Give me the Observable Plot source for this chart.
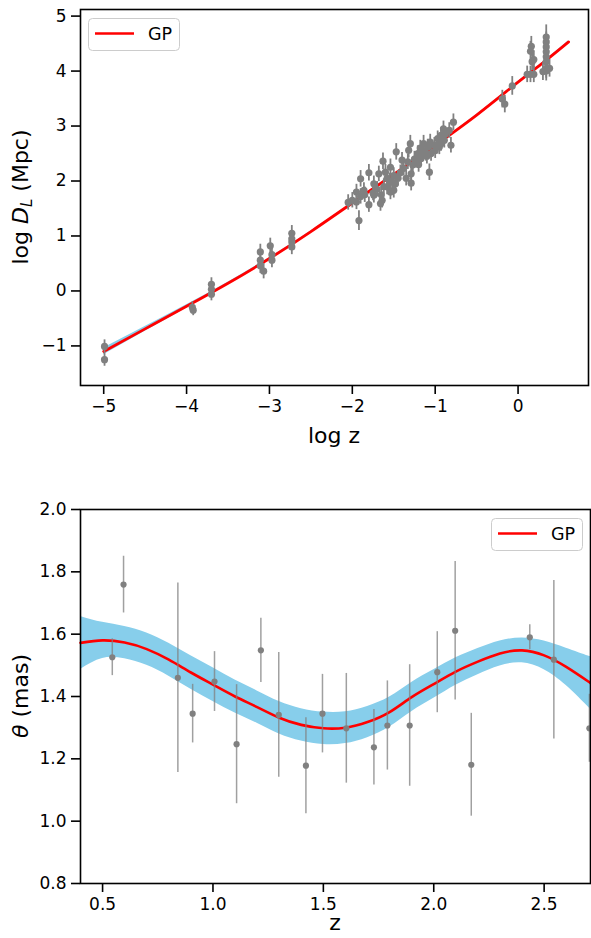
<!DOCTYPE html>
<html><head><meta charset="utf-8">
<script src="https://cdn.jsdelivr.net/npm/d3@7"></script>
<script src="https://cdn.jsdelivr.net/npm/@observablehq/plot@0.6"></script>
<style>
body{margin:0;background:#fff;}
#wrap{position:relative;width:591px;height:938px;overflow:hidden;}
#wrap svg{display:block;}
</style></head><body><div id="wrap"></div><script>
// ---------- Top panel data: log z vs log D_L ----------
const logZ = [-4.99,-4.99,-3.93,-3.92,-3.70,-3.70,-3.70,
  -3.11,-3.11,-3.11,-3.07,-2.99,-2.97,-2.97,-2.73,-2.73,-2.73,-2.73,
  -2.05,-1.95,-1.92,-1.90,-1.95,-1.86,-1.80,-1.80,-1.74,-1.74,-1.66,-1.64,-1.63,-1.68,-1.60,-1.58,
  -1.54,-1.52,-1.50,-1.54,-1.50,-1.47,-1.40,-1.38,-1.30,-1.32,-1.29,-1.29,-1.27,-1.23,-1.21,-1.14,
  -1.15,-1.17,-1.11,-1.07,-1.06,-1.01,-0.97,-0.93,-0.95,-0.89,-0.90,-0.83,-0.81,-0.78,-0.93,-1.09,
  -1.85,-1.70,-1.62,-1.45,-1.42,-1.35,-1.25,-1.20,-1.10,-1.00,-0.95,-1.55,-1.75,-1.90,-2.00,-1.65,
  -1.58,-1.48,-1.33,-1.18,-1.05,-0.88,
  -0.19,-0.16,-0.07,0.11,0.15,0.19,0.15,0.17,0.19,0.16,
  0.34,0.34,0.34,0.34,0.34,0.34,0.34,0.34,0.30,0.38];
const logDL = [-1.01,-1.25,-0.30,-0.35,0.12,0.03,-0.06,
  0.71,0.56,0.46,0.36,0.82,0.66,0.56,1.05,0.95,0.89,0.80,
  1.61,1.62,1.28,2.04,1.80,1.83,1.57,2.15,1.95,1.74,1.59,1.65,2.36,2.13,2.16,1.89,
  2.25,1.98,2.10,1.80,1.83,2.53,2.38,2.23,2.68,2.56,2.13,1.96,2.29,2.38,2.50,2.68,
  2.56,2.41,2.50,2.16,2.71,2.65,2.77,2.83,2.62,2.74,2.95,2.92,2.65,3.07,2.68,2.62,
  1.75,1.85,1.90,2.05,2.15,2.05,2.40,2.30,2.45,2.55,2.70,2.00,1.78,1.72,1.65,1.75,
  2.05,1.95,2.35,2.60,2.50,2.85,
  3.49,3.40,3.73,3.94,3.94,3.94,4.36,4.17,4.21,4.45,
  4.62,4.53,4.44,4.35,4.26,4.17,4.05,4.00,3.99,4.05];
const logDLerr = [0.12,0.12,0.10,0.10,0.12,0.12,0.12,
  0.14,0.14,0.14,0.14,0.14,0.14,0.14,0.14,0.14,0.14,0.14,
  0.14,0.14,0.18,0.15,0.14,0.14,0.14,0.15,0.14,0.14,0.14,0.14,0.15,0.14,0.14,0.14,
  0.15,0.14,0.14,0.14,0.14,0.15,0.14,0.14,0.15,0.14,0.14,0.14,0.14,0.14,0.14,0.15,
  0.14,0.14,0.14,0.15,0.14,0.14,0.14,0.14,0.14,0.14,0.14,0.14,0.14,0.15,0.14,0.14,
  0.14,0.14,0.14,0.14,0.14,0.14,0.14,0.14,0.14,0.14,0.14,0.14,0.14,0.14,0.14,0.14,
  0.14,0.14,0.14,0.14,0.14,0.14,
  0.16,0.16,0.17,0.15,0.15,0.15,0.18,0.16,0.16,0.18,
  0.22,0.18,0.18,0.18,0.18,0.18,0.18,0.18,0.16,0.16];
// GP reconstruction (top)
const gpTopZ    = [-5,-4.5,-4,-3.5,-3,-2.5,-2,-1.5,-1,-0.5,0,0.3,0.61];
const gpTopMean = [-1.10,-0.69,-0.28,0.14,0.59,1.08,1.60,2.12,2.65,3.20,3.80,4.15,4.53];
const gpTopSig  = [0.06,0.045,0.03,0.02,0.015,0.01,0.01,0.01,0.01,0.01,0.012,0.015,0.02];

// ---------- Bottom panel data: z vs theta ----------
const zObs     = [0.544,0.595,0.841,0.908,1.007,1.107,1.217,1.298,1.421,1.496,1.604,1.729,1.790,1.891,2.016,2.097,2.170,2.435,2.544,2.705];
const thetaObs = [1.526,1.759,1.460,1.345,1.448,1.247,1.548,1.341,1.178,1.345,1.298,1.237,1.307,1.307,1.478,1.611,1.181,1.590,1.518,1.298];
const thetaErr = [0.059,0.091,0.304,0.094,0.096,0.191,0.103,0.200,0.154,0.126,0.176,0.121,0.143,0.195,0.130,0.222,0.165,0.040,0.254,0.109];
const gpZ     = [0.4,0.5,0.6,0.7,0.8,0.9,1.0,1.1,1.2,1.3,1.4,1.5,1.6,1.7,1.8,1.9,2.0,2.1,2.2,2.3,2.4,2.5,2.6,2.7,2.71];
const gpMean  = [1.572,1.580,1.573,1.552,1.518,1.477,1.438,1.400,1.366,1.332,1.309,1.298,1.300,1.318,1.350,1.398,1.440,1.480,1.512,1.538,1.548,1.532,1.495,1.448,1.443];
const gpSig   = [0.085,0.058,0.052,0.052,0.053,0.054,0.054,0.053,0.052,0.052,0.052,0.052,0.051,0.050,0.048,0.047,0.046,0.044,0.042,0.040,0.040,0.046,0.060,0.082,0.085];

const FONT = "DejaVu Sans";
const topPts = logZ.map((x,i)=>({x, y: logDL[i], e: logDLerr[i]}));
const topGP = gpTopZ.map((x,i)=>({x, y: gpTopMean[i], lo: gpTopMean[i]-gpTopSig[i], hi: gpTopMean[i]+gpTopSig[i]}));
const botPts = zObs.map((x,i)=>({x, y: thetaObs[i], e: thetaErr[i]}));
const botGP = gpZ.map((x,i)=>({x, y: gpMean[i], lo: gpMean[i]-gpSig[i], hi: gpMean[i]+gpSig[i]}));

const axisOpts = {tickSize: 9, tickPadding: 5, fontSize: 17, strokeWidth: 1.6, label: null};

const topPlot = Plot.plot({
  width: 591, height: 460,
  marginLeft: 80, marginRight: 3, marginTop: 9, marginBottom: 75,
  style: {fontFamily: FONT, background: "white", color: "black", overflow: "visible"},
  x: {domain: [-5.28, 0.85]},
  y: {domain: [-1.72, 5.12]},
  marks: [
    Plot.areaY(topGP, {x: "x", y1: "lo", y2: "hi", fill: "skyblue", curve: "natural"}),
    Plot.line(topGP, {x: "x", y: "y", stroke: "red", strokeWidth: 2.8, curve: "natural"}),
    Plot.ruleX(topPts, {x: "x", y1: d=>d.y-d.e, y2: d=>d.y+d.e, stroke: "gray", strokeWidth: 1.8}),
    Plot.dot(topPts, {x: "x", y: "y", r: 3.6, fill: "gray"}),
    Plot.frame({stroke: "black", strokeWidth: 1.6}),
    Plot.axisX({...axisOpts, ticks: [-5,-4,-3,-2,-1,0], tickFormat: d3.format("d")}),
    Plot.axisY({...axisOpts, ticks: [-1,0,1,2,3,4,5], tickFormat: d3.format("d")})
  ]
});

const botPlot = Plot.plot({
  width: 591, height: 478,
  marginLeft: 80, marginRight: 1, marginTop: 49, marginBottom: 55,
  style: {fontFamily: FONT, background: "white", color: "black", overflow: "visible"},
  x: {domain: [0.4, 2.71]},
  y: {domain: [0.8, 2.0]},
  marks: [
    Plot.areaY(botGP, {x: "x", y1: "lo", y2: "hi", fill: "skyblue", curve: "natural"}),
    Plot.line(botGP, {x: "x", y: "y", stroke: "red", strokeWidth: 2.6, curve: "natural"}),
    Plot.ruleX(botPts, {x: "x", y1: d=>d.y-d.e, y2: d=>d.y+d.e, stroke: "gray", strokeOpacity: 0.75, strokeWidth: 1.5}),
    Plot.dot(botPts, {x: "x", y: "y", r: 3.1, fill: "gray"}),
    Plot.frame({stroke: "black", strokeWidth: 1.6}),
    Plot.axisX({...axisOpts, ticks: [0.5,1.0,1.5,2.0,2.5], tickFormat: d3.format(".1f")}),
    Plot.axisY({...axisOpts, ticks: [0.8,1.0,1.2,1.4,1.6,1.8,2.0], tickFormat: d3.format(".1f")})
  ]
});

const wrap = document.getElementById("wrap");
wrap.appendChild(topPlot);
wrap.appendChild(botPlot);

function addXLabel(svg, x, y, text){
  d3.select(svg).append("text").attr("x", x).attr("y", y)
    .attr("text-anchor","middle").attr("font-family",FONT).attr("font-size",22).attr("fill","black").text(text);
}
function legend(svg, x, y){
  const g = d3.select(svg).append("g");
  g.append("rect").attr("x", x+0.5).attr("y", y+0.5).attr("width", 91).attr("height", 32).attr("rx", 4)
    .attr("fill","white").attr("fill-opacity",0.8).attr("stroke","#cccccc").attr("stroke-width",1);
  g.append("line").attr("x1", x+7).attr("x2", x+46).attr("y1", y+15.5).attr("y2", y+15.5)
    .attr("stroke","red").attr("stroke-width",2.6);
  g.append("text").attr("x", x+60).attr("y", y+22).attr("text-anchor","start")
    .attr("font-family",FONT).attr("font-size",17.5).attr("fill","black").text("GP");
}

// Top labels
addXLabel(topPlot, 334, 443, "log z");
{
  const t = d3.select(topPlot).append("text").attr("transform","translate(28,197) rotate(-90)")
    .attr("text-anchor","middle").attr("font-family",FONT).attr("font-size",22).attr("fill","black");
  t.append("tspan").text("log ");
  t.append("tspan").attr("font-style","italic").text("D");
  t.append("tspan").attr("font-size",15).attr("dy",4).attr("font-style","italic").text("L");
  t.append("tspan").attr("dy",-4).text(" (Mpc)");
}
legend(topPlot, 88, 18);

// Bottom labels
addXLabel(botPlot, 335, 470, "z");
{
  const t = d3.select(botPlot).append("text").attr("transform","translate(28,236) rotate(-90)")
    .attr("text-anchor","middle").attr("font-family",FONT).attr("font-size",22).attr("fill","black");
  t.append("tspan").attr("font-style","italic").text("θ");
  t.append("tspan").text(" (mas)");
}
legend(botPlot, 491, 58);
</script></body></html>
